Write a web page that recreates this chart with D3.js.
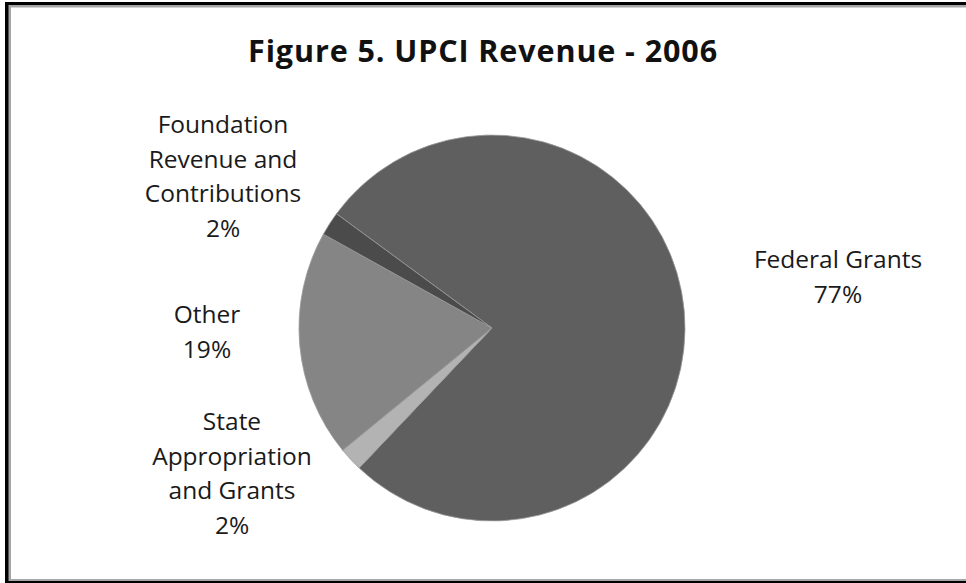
<!DOCTYPE html>
<html>
<head>
<meta charset="utf-8">
<script src="https://cdn.jsdelivr.net/npm/d3@7"></script>
<style>
  body { margin: 0; background: #fff; }
  svg { display: block; font-family: "Open Sans", sans-serif; }
</style>
</head>
<body>
<div id="chart"></div>
<script>
// data
const categories = ["Federal Grants", "State Appropriation and Grants", "Other", "Foundation Revenue and Contributions"];
const shares = [77, 2, 19, 2];
const sliceColors = ["#5f5f5f", "#b3b3b3", "#858585", "#4b4b4b"];
// label lines as printed
const labelLines = [
    ["Federal Grants"],
    ["State", "Appropriation", "and Grants"],
    ["Other"],
    ["Foundation", "Revenue and", "Contributions"]
];

const width = 966, height = 583;
const cx = 492, cy = 328, radius = 193;

const svg = d3.select("#chart").append("svg")
    .attr("width", width)
    .attr("height", height);

// frame
svg.append("rect").attr("x", 5).attr("y", 2).attr("width", 1000).attr("height", 581).attr("fill", "#000");
svg.append("rect").attr("x", 8.5).attr("y", 5).attr("width", 1000).attr("height", 576).attr("fill", "#a6a6a6");
svg.append("rect").attr("x", 11).attr("y", 7.5).attr("width", 1000).attr("height", 571.5).attr("fill", "#fff");

// title
svg.append("text")
    .attr("x", 483)
    .attr("y", 62)
    .attr("text-anchor", "middle")
    .attr("font-weight", "bold")
    .attr("font-size", 30.5)
    .attr("letter-spacing", 0.9)
    .attr("fill", "#111")
    .text("Figure 5. UPCI Revenue - 2006");

// pie
const start = 306.3 * Math.PI / 180;
const pie = d3.pie().sort(null).startAngle(start).endAngle(start + 2 * Math.PI);
const arc = d3.arc().innerRadius(0).outerRadius(radius);
const arcs = pie(shares);

const g = svg.append("g").attr("transform", `translate(${cx},${cy})`);
g.selectAll("path.slice")
    .data(arcs)
    .join("path")
    .attr("class", "slice")
    .attr("d", arc)
    .attr("fill", (d, i) => sliceColors[i])
    .attr("stroke", "#9a9a9a")
    .attr("stroke-width", 0.8);

// labels: first baseline relative to pie centre
const labelPos = [
    {x: 346, y: -60},
    {x: -260, y: 102},
    {x: -285, y: -5},
    {x: -269, y: -195}
];
const lineGap = 34.5;

arcs.forEach((d, i) => {
    const lines = labelLines[i].concat([shares[i] + "%"]);
    const t = g.append("text")
        .attr("text-anchor", "middle")
        .attr("font-size", 24.5)
        .attr("fill", "#1a1a1a");
    lines.forEach((ln, k) => {
        t.append("tspan")
            .attr("x", labelPos[i].x)
            .attr("y", labelPos[i].y + k * lineGap)
            .text(ln);
    });
});
</script>
</body>
</html>
